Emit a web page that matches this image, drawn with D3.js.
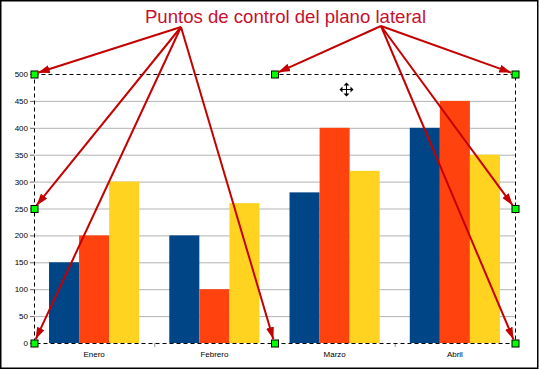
<!DOCTYPE html>
<html>
  <head>
    <script src="https://d3js.org/d3.v7.min.js"></script>
    <style>
      body{ margin:0; background:#fff; }
      svg{ display:block; font-family:"Liberation Sans", Arial, sans-serif; }
    </style>
  </head>
  <body>
    <svg id="chart" width=539 height=370></svg>
    <script>
      const months = ["Enero", "Febrero", "Marzo", "Abril"];
      const serie1 = [150, 200, 280, 400];
      const serie2 = [200, 100, 400, 450];
      const serie3 = [300, 260, 320, 350];
      const colors = ["#004586", "#ff420e", "#ffd320"];
      const yTicks = [0, 50, 100, 150, 200, 250, 300, 350, 400, 450, 500];
      const title = "Puntos de control del plano lateral";

      const svg = d3.select("#chart");
      const margin = { top: 74, right: 24, bottom: 27, left: 34 };
      const width = 539 - margin.left - margin.right;
      const height = 370 - margin.top - margin.bottom;

      // outer frame
      svg.append("rect")
        .attr("x", 0.75).attr("y", 0.75)
        .attr("width", 537).attr("height", 367.5)
        .attr("fill", "none").attr("stroke", "#000").attr("stroke-width", 1.5);

      const g = svg.append("g")
        .attr("transform", "translate(" + margin.left + "," + margin.top + ")");

      const x0 = d3.scaleBand().domain(months).range([0, width]).paddingInner(0.25).paddingOuter(0.125);
      const xCat = d3.scaleBand().domain(months).range([0, width]);
      const y = d3.scaleLinear().domain([0, 500]).range([height, 0]);

      // grid
      g.selectAll(".grid").data(yTicks.slice(1, -1)).enter().append("line")
        .attr("x1", 0).attr("x2", width)
        .attr("y1", d => y(d) + 0.5).attr("y2", d => y(d) + 0.5)
        .attr("stroke", "#b3b3b3");

      // bars
      const series = [serie1, serie2, serie3];
      const x1 = d3.scaleBand().domain([0, 1, 2]).range([0, x0.bandwidth()]);
      series.forEach(function(s, si) {
        g.selectAll(".bar" + si).data(s).enter().append("rect")
          .attr("x", (d, i) => x0(months[i]) + x1(si))
          .attr("y", d => y(d))
          .attr("width", x1.bandwidth())
          .attr("height", d => height - y(d))
          .attr("fill", colors[si]);
      });

      // y axis
      const yAxis = g.append("g").call(d3.axisLeft(y).tickValues(yTicks).tickSize(4).tickSizeOuter(0));
      yAxis.select(".domain").remove();
      yAxis.selectAll("line").attr("stroke", "#666");
      yAxis.selectAll("text").attr("font-size", 8).attr("fill", "#000").attr("x", -6).attr("font-family", "Liberation Sans, Arial");

      // x axis
      const xAxis = g.append("g").attr("transform", "translate(0," + height + ")")
        .call(d3.axisBottom(xCat).tickSize(0));
      xAxis.select(".domain").remove();
      xAxis.selectAll("text").attr("font-size", 8).attr("fill", "#000").attr("y", 8).attr("font-family", "Liberation Sans, Arial");
      g.selectAll(".xt").data(months.slice(1)).enter().append("line")
        .attr("x1", d => xCat(d) + 0.5).attr("x2", d => xCat(d) + 0.5)
        .attr("y1", height).attr("y2", height + 4)
        .attr("stroke", "#999");

      // dashed selection frame
      g.append("rect")
        .attr("x", 0.5).attr("y", 0.5).attr("width", width).attr("height", height)
        .attr("fill", "none").attr("stroke", "#000").attr("stroke-dasharray", "4,3");

      // handles: corners, side middles, top/bottom middles
      const handles = [
        [0, y(500)], [width / 2, y(500)], [width, y(500)],
        [0, y(250)], [width, y(250)],
        [0, y(0)], [width / 2, y(0)], [width, y(0)]
      ];

      // arrows
      const defs = svg.append("defs");
      defs.append("marker").attr("id", "ah")
        .attr("viewBox", "0 0 12 8").attr("refX", 12).attr("refY", 4)
        .attr("markerWidth", 12).attr("markerHeight", 8)
        .attr("markerUnits", "userSpaceOnUse").attr("orient", "auto")
        .append("path").attr("d", "M0,0 L12,4 L0,8 Z").attr("fill", "#c40000");

      const o1 = [181, 27], o2 = [381, 26];
      const arrows = [
        [o1, [0, y(500)]], [o1, [0, y(250)]], [o1, [0, y(0)]], [o1, [width / 2, y(0)]],
        [o2, [width / 2, y(500)]], [o2, [width, y(500)]], [o2, [width, y(250)]], [o2, [width, y(0)]]
      ];
      arrows.forEach(function(a) {
        const tx = a[1][0] + margin.left, ty = a[1][1] + margin.top;
        const dx = tx - a[0][0], dy = ty - a[0][1];
        const len = Math.sqrt(dx * dx + dy * dy);
        const k = (len - 4) / len;
        svg.append("line")
          .attr("x1", a[0][0]).attr("y1", a[0][1])
          .attr("x2", a[0][0] + dx * k).attr("y2", a[0][1] + dy * k)
          .attr("stroke", "#c40000").attr("stroke-width", 2)
          .attr("marker-end", "url(#ah)");
      });

      g.selectAll(".handle").data(handles).enter().append("rect")
        .attr("x", d => d[0] - 3).attr("y", d => d[1] - 3)
        .attr("width", 7).attr("height", 7)
        .attr("fill", "#00ff00").attr("stroke", "#000").attr("stroke-width", 1);

      // move cursor
      const c = svg.append("g").attr("transform", "translate(346.5,89.5)");
      c.append("path").attr("d", "M-6,0 H6 M0,-6 V6").attr("stroke", "#000").attr("stroke-width", 1);
      c.append("path").attr("d", "M-7,0 L-4,-3 L-4,3 Z M7,0 L4,-3 L4,3 Z M0,-7 L-3,-4 L3,-4 Z M0,7 L-3,4 L3,4 Z").attr("fill", "#000");

      // title
      svg.append("text")
        .attr("x", 285.5).attr("y", 23)
        .attr("text-anchor", "middle")
        .attr("font-size", 18.6)
        .attr("fill", "#c8102e")
        .text(title);
    </script>
  </body>
</html>
